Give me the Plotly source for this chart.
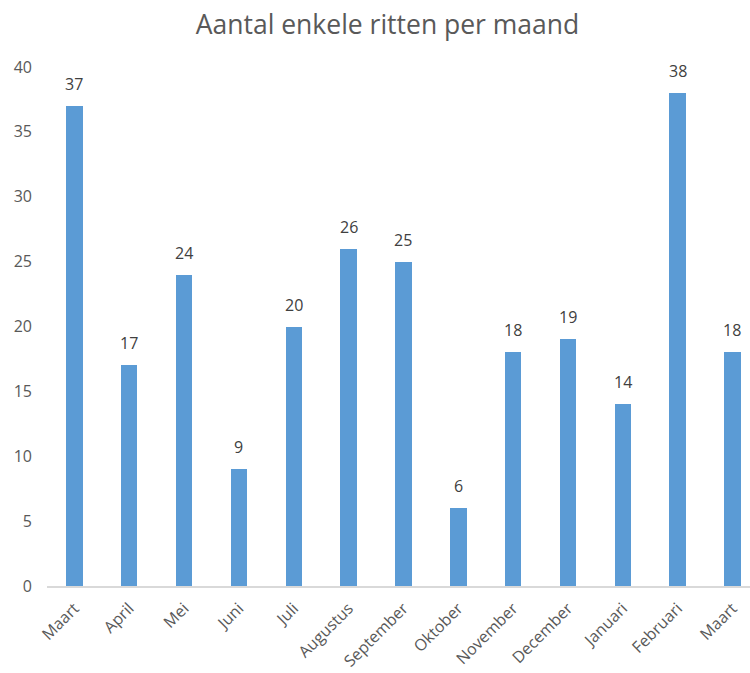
import plotly.graph_objects as go

months = ["Maart", "April", "Mei", "Juni", "Juli", "Augustus", "September",
          "Oktober", "November", "December", "Januari", "Februari", "Maart"]
rides = [37, 17, 24, 9, 20, 26, 25, 6, 18, 19, 14, 38, 18]
y_ticks = [0, 5, 10, 15, 20, 25, 30, 35, 40]

positions = list(range(len(months)))
FONT = "Open Sans, Noto Sans, sans-serif"

fig = go.Figure(go.Bar(
    x=positions, y=rides,
    width=0.30,
    marker=dict(color="#5B9BD5", line=dict(width=0)),
    hoverinfo="x+y",
))

for p, v in zip(positions, rides):
    fig.add_annotation(
        x=p, y=v, text=str(v), showarrow=False,
        yanchor="bottom", xanchor="center", yshift=9,
        font=dict(family=FONT, size=16, color="#404040"),
    )

fig.update_layout(
    width=750, height=673,
    margin=dict(l=47, r=0, t=67, b=87),
    paper_bgcolor="white", plot_bgcolor="white",
    title=dict(text="Aantal enkele ritten per maand", x=0.5167, xanchor="center",
               y=1 - 25 / 673, yanchor="middle",
               font=dict(family=FONT, size=26.5, color="#595959")),
    showlegend=False,
    bargap=0,
)
fig.update_xaxes(
    range=[-0.5, 12.32],
    tickvals=positions, ticktext=months, tickangle=-45,
    tickfont=dict(family=FONT, size=16, color="#595959"),
    showgrid=False, zeroline=False,
    showline=True, linecolor="#D9D9D9", linewidth=1.5,
    ticks="", ticklabelstandoff=5,
)
fig.update_yaxes(
    range=[0, 40], tickvals=y_ticks,
    tickfont=dict(family=FONT, size=16, color="#595959"),
    showgrid=False, zeroline=False, showline=False,
    ticklabelstandoff=14,
)

fig.write_html("out.html",
               config={"displayModeBar": False},
               post_script="document.body.style.margin='0';document.body.style.overflow='hidden';")
